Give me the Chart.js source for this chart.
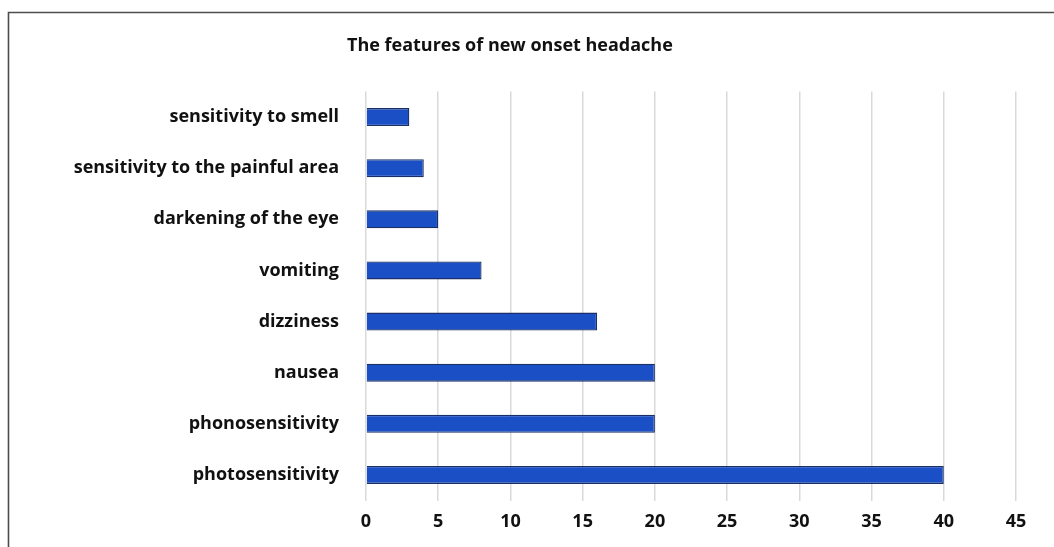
<!DOCTYPE html>
<html>
<head>
<meta charset="utf-8">
<script src="https://cdn.jsdelivr.net/npm/chart.js@4"></script>
<style>
  html, body { margin: 0; padding: 0; background: #fff; }
  #wrap { position: relative; width: 1054px; height: 547px; }
</style>
</head>
<body>
<div id="wrap"><canvas id="chart" width="1054" height="547"></canvas></div>
<script>
// Data
const categories = [
	"sensitivity to smell",
	"sensitivity to the painful area",
	"darkening of the eye",
	"vomiting",
	"dizziness",
	"nausea",
	"phonosensitivity",
	"photosensitivity",
];
const counts = [3, 4, 5, 8, 16, 20, 20, 40];
const xTicks = [0, 5, 10, 15, 20, 25, 30, 35, 40, 45];
const chartTitle = "The features of new onset headache";

const FONT = "'Open Sans', sans-serif";

// Title and the thin frame on the top and left edges
const decorations = {
	id: "decorations",
	afterDraw(chart) {
		const { ctx } = chart;
		ctx.save();
		ctx.strokeStyle = "#4d4d4d";
		ctx.lineWidth = 1.6;
		ctx.beginPath();
		ctx.moveTo(8.5, 547);
		ctx.lineTo(8.5, 12.5);
		ctx.lineTo(1054, 12.5);
		ctx.stroke();

		ctx.fillStyle = "#111";
		ctx.font = "bold 18px " + FONT;
		ctx.textAlign = "left";
		ctx.textBaseline = "middle";
		ctx.fillText(chartTitle, 347, 46);
		ctx.restore();
	},
};

const ctx = document.getElementById("chart").getContext("2d");

new Chart(ctx, {
	type: "bar",
	data: {
		labels: categories,
		datasets: [{
			data: counts,
			backgroundColor: "#1a4fc6",
			borderColor: "#192f66",
			borderWidth: 1.3,
			categoryPercentage: 1,
			barPercentage: 0.35,
		}],
	},
	options: {
		indexAxis: "y",
		responsive: false,
		animation: false,
		maintainAspectRatio: false,
		layout: {
			padding: { top: 91.5, right: 38, left: 0, bottom: 0 },
		},
		scales: {
			x: {
				min: 0,
				max: 45,
				afterBuildTicks(scale) {
					scale.ticks = xTicks.map((v) => ({ value: v }));
				},
				afterFit(scale) {
					scale.height = 46.5;
				},
				border: { display: false },
				grid: {
					color: "#d9d9d9",
					lineWidth: 1.5,
					drawTicks: false,
				},
				ticks: {
					padding: 11,
					color: "#111",
					font: { family: FONT, size: 18, weight: "bold" },
				},
			},
			y: {
				afterFit(scale) {
					scale.width = 366;
				},
				border: { display: false },
				grid: { display: false, drawTicks: false },
				ticks: {
					padding: 27,
					color: "#111",
					font: { family: FONT, size: 18, weight: "bold" },
				},
			},
		},
		plugins: {
			legend: { display: false },
			title: { display: false },
			tooltip: { enabled: false },
		},
	},
	plugins: [decorations],
});
</script>
</body>
</html>
